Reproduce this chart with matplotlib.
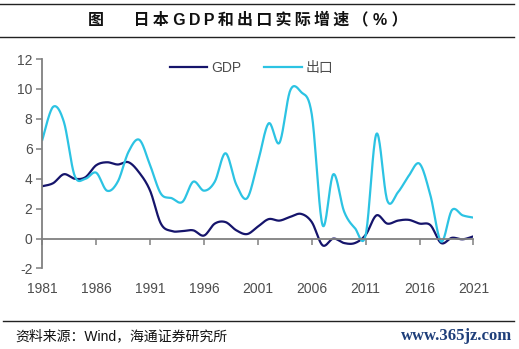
import numpy as np
import matplotlib
matplotlib.use("Agg")
import matplotlib.pyplot as plt
from matplotlib.lines import Line2D

# annual real growth, %
years = list(range(1981, 2022))
gdp = [3.5, 3.7, 4.3, 4.0, 4.1, 4.9, 5.1, 4.95, 5.1, 4.4,
       3.2, 1.0, 0.5, 0.5, 0.55, 0.2, 1.0, 1.1, 0.55, 0.3,
       0.8, 1.3, 1.2, 1.45, 1.65, 1.1, -0.45, 0.0, -0.3, -0.3,
       0.25, 1.55, 1.0, 1.2, 1.25, 1.0, 0.9, -0.3, 0.05, -0.05, 0.15]
exports = [6.6, 8.8, 7.8, 4.2, 4.0, 4.4, 3.2, 3.8, 5.8, 6.6,
           4.9, 3.0, 2.7, 2.45, 3.8, 3.2, 3.8, 5.7, 3.6, 2.7,
           5.1, 7.7, 6.4, 9.9, 9.8, 8.3, 0.9, 4.3, 1.8, 0.7,
           0.25, 7.0, 2.55, 3.1, 4.2, 5.0, 2.9, -0.2, 1.9, 1.55, 1.4]
xticks = [1981, 1986, 1991, 1996, 2001, 2006, 2011, 2016, 2021]
yticks = list(range(-2, 13, 2))

NAVY = "#15146b"
CYAN = "#2cc3e3"
GREY = "#808080"
TXT = "#4d4d4d"
MIXED = ["Liberation Sans", "DejaVu Sans", "Noto Sans CJK SC"]


def smooth(x, y, n=20):
    # excel-style smoothed line (catmull-rom through each point)
    x = np.asarray(x, float)
    y = np.asarray(y, float)
    px = np.concatenate([[x[0]], x, [x[-1]]])
    py = np.concatenate([[y[0]], y, [y[-1]]])
    t = np.linspace(0, 1, n, endpoint=False)[:, None]
    xs, ys = [], []
    for i in range(1, len(px) - 2):
        for p, out in ((px, xs), (py, ys)):
            b0 = p[i]
            b1 = p[i] + (p[i + 1] - p[i - 1]) / 6
            b2 = p[i + 1] - (p[i + 2] - p[i]) / 6
            b3 = p[i + 1]
            seg = ((1 - t) ** 3 * b0 + 3 * (1 - t) ** 2 * t * b1
                   + 3 * (1 - t) * t ** 2 * b2 + t ** 3 * b3)
            out.append(seg.ravel())
    xs.append([x[-1]])
    ys.append([y[-1]])
    return np.concatenate(xs), np.concatenate(ys)


fig = plt.figure(figsize=(5.19, 3.49), dpi=100)
ax = fig.add_axes([0.0815, 0.2307, 0.8308, 0.6002])

ax.plot(*smooth(years, gdp), color=NAVY, lw=1.6, label="GDP")
ax.plot(*smooth(years, exports), color=CYAN, lw=1.6, label="出口")

ax.set_xlim(1981, 2021)
ax.set_ylim(-2, 12)
ax.set_xticks(xticks)
ax.set_yticks(yticks)
ax.set_yticklabels([str(v) for v in yticks])

for s in ("top", "right"):
    ax.spines[s].set_visible(False)
ax.spines["bottom"].set_position(("data", 0))
for s in ("bottom", "left"):
    ax.spines[s].set_color(GREY)
    ax.spines[s].set_linewidth(1.3)

ax.tick_params(axis="x", direction="out", length=4, width=1.1, color=GREY,
               pad=27, labelsize=10, labelcolor=TXT)
ax.tick_params(axis="y", direction="out", length=4, width=1.1, color=GREY,
               pad=3, labelsize=10, labelcolor=TXT)
for lab in ax.get_xticklabels() + ax.get_yticklabels():
    lab.set_family("Liberation Sans")

handles = [Line2D([], [], color=NAVY, lw=1.6), Line2D([], [], color=CYAN, lw=1.6)]
leg = fig.legend(handles, ["GDP", "出口"], loc="center", ncol=2, frameon=False,
                 bbox_to_anchor=(0.485, 0.806), handlelength=2.7,
                 handletextpad=0.3, columnspacing=1.6,
                 prop={"family": MIXED, "size": 10})
for t in leg.get_texts():
    t.set_color(TXT)

# title block with rules above and below
fig.add_artist(Line2D([0.0, 0.99], [1 - 3.5 / 349] * 2, color="#222222", lw=1.0))
fig.add_artist(Line2D([0.0, 0.99], [1 - 36.5 / 349] * 2, color="#222222", lw=1.0))
sp = "\u2009"
title = ("图　   " + sp.join("日本") + " " + sp.join("GDP") + sp
         + sp.join("和出口实际增速") + sp + "（ % ）")
fig.text(247.5 / 519, 1 - 19.5 / 349, title, ha="center", va="center",
         fontsize=11.5, fontweight="bold", color="#111111", family=MIXED)

# source line
fig.add_artist(Line2D([0.006, 0.99], [1 - 321 / 349] * 2, color="#222222", lw=1.0))
fig.text(15 / 519, 1 - 336.5 / 349, "资料来源：Wind，海通证券研究所", ha="left", va="center",
         fontsize=10, color="#111111", family=MIXED)
fig.text(512 / 519, 1 - 335.5 / 349, "www.365jz.com", ha="right", va="center",
         fontsize=12, fontweight="bold", color="#1f3f7a", family="Liberation Serif")

fig.savefig("out.png", dpi=100)
